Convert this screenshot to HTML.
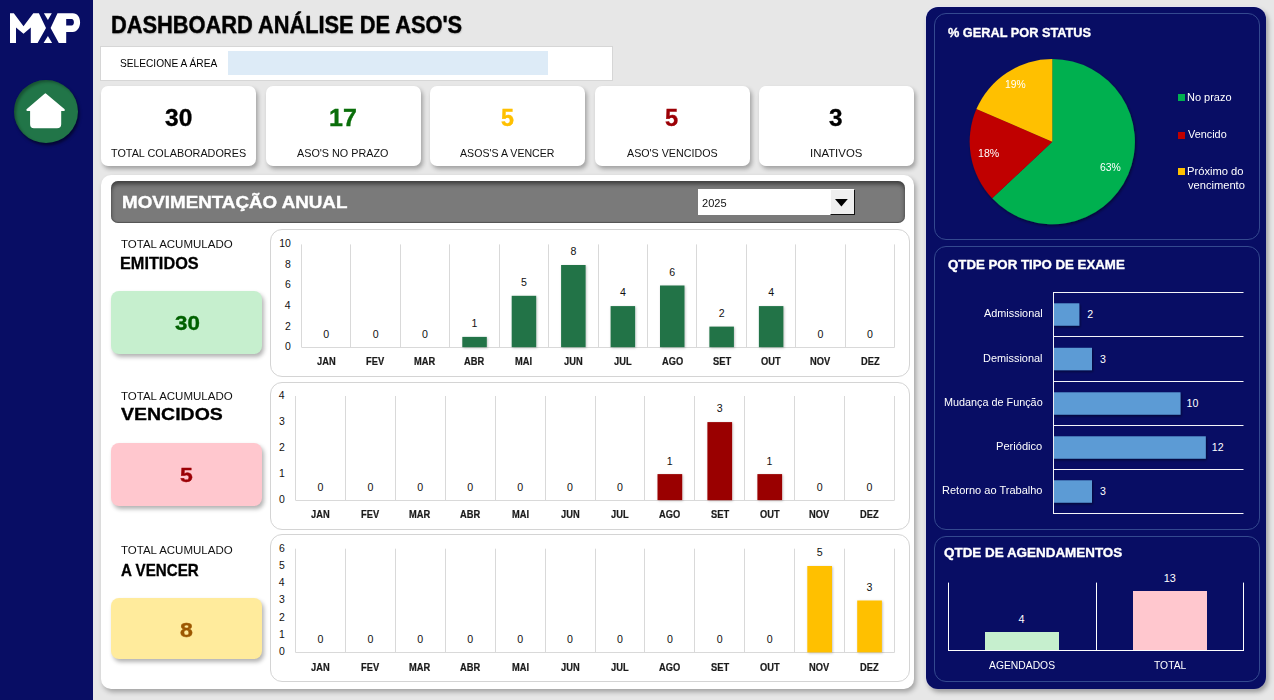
<!DOCTYPE html>
<html><head><meta charset="utf-8"><style>
html,body{margin:0;padding:0;width:1274px;height:700px;overflow:hidden;background:#e7e7e7;font-family:"Liberation Sans", sans-serif;}
body{position:relative;}
.t{position:absolute;white-space:nowrap;line-height:1;transform-origin:0 0;}
</style></head><body>
<div style="position:absolute;left:0.00px;top:0.00px;width:93.00px;height:700.00px;background:#080d64;"></div>
<svg style="position:absolute;left:0;top:0" width="93" height="60" viewBox="0 0 93 60"><g fill="#fff">
<path d="M10,13.3 L13.8,13.3 L23.5,26.2 L33.3,13.3 L38.9,13.3 L46,28.1 L37.6,42.9 L30.8,42.9 L30.8,27.5 L23.5,33.8 L16,27.5 L16,42.9 L10,42.9 Z"/>
<path d="M43.9,13.3 L51.8,13.3 L47.9,19.9 Z"/>
<path d="M43.6,42.9 L52.1,42.9 L47.9,35.9 Z"/>
<path fill-rule="evenodd" d="M57.5,13.3 L72.8,13.3 C77.5,13.3 80.1,17.5 80.1,22.5 C80.1,27.5 77,31.9 72.8,31.9 L66.2,31.9 L66.2,42.9 L58.8,42.9 L50.6,28.1 Z M66.2,19 L71.6,19 C73.2,19 73.9,20.6 73.9,22.3 C73.9,24 73.2,25.6 71.6,25.6 L66.2,25.6 Z"/>
</g></svg>
<div style="position:absolute;left:14.3px;top:80px;width:63.6px;height:63px;border-radius:50%;background:#217548;box-shadow:1.5px 2.5px 3px rgba(0,0,20,0.6), inset 2px 2px 3px rgba(0,0,0,0.3);"></div>
<svg style="position:absolute;left:0;top:60px" width="93" height="100" viewBox="0 60 93 100">
<path d="M45.4,94.6 L27.6,109.9 L31.3,109.9 L31.3,124.3 Q31.3,127 34,127 L57,127 Q60,127 60,124.3 L60,109.9 L63.6,109.9 Z" fill="#fff" stroke="#fff" stroke-width="2.4" stroke-linejoin="round"/>
</svg>
<div class="t" style="left:110.53px;top:13.86px;font-size:23.32px;font-weight:bold;color:#000;transform:scaleX(0.9350);-webkit-text-stroke:0.4px #000;text-shadow:0.5px 1px 1.5px rgba(0,0,0,0.25);">DASHBOARD ANÁLISE DE ASO'S</div>
<div style="position:absolute;left:100.00px;top:46.00px;width:513.00px;height:35.00px;background:#fff;border:1px solid #d6d6d6;box-sizing:border-box;"></div>
<div class="t" style="left:119.74px;top:58.44px;font-size:11.17px;font-weight:normal;color:#000;transform:scaleX(0.9117);">SELECIONE A ÁREA</div>
<div style="position:absolute;left:228.20px;top:51.20px;width:319.80px;height:23.50px;background:#ddebf7;"></div>
<div style="position:absolute;left:101.00px;top:86.30px;width:155.00px;height:79.40px;background:#fff;border-radius:7px;box-shadow:2px 3px 4px rgba(0,0,0,0.3);"></div>
<div class="t" style="left:165.45px;top:106.70px;font-size:23.74px;font-weight:bold;color:#000;transform:scaleX(1.0333);-webkit-text-stroke:0.35px #000;">30</div>
<div class="t" style="left:111.06px;top:147.80px;font-size:10.75px;font-weight:normal;color:#111;transform:scaleX(1.0066);">TOTAL COLABORADORES</div>
<div style="position:absolute;left:265.50px;top:86.30px;width:155.00px;height:79.40px;background:#fff;border-radius:7px;box-shadow:2px 3px 4px rgba(0,0,0,0.3);"></div>
<div class="t" style="left:329.04px;top:106.70px;font-size:23.74px;font-weight:bold;color:#0a6e0a;transform:scaleX(1.0519);-webkit-text-stroke:0.35px #0a6e0a;">17</div>
<div class="t" style="left:297.37px;top:147.80px;font-size:10.75px;font-weight:normal;color:#111;transform:scaleX(1.0039);">ASO'S NO PRAZO</div>
<div style="position:absolute;left:430.00px;top:86.30px;width:155.00px;height:79.40px;background:#fff;border-radius:7px;box-shadow:2px 3px 4px rgba(0,0,0,0.3);"></div>
<div class="t" style="left:500.84px;top:106.70px;font-size:23.74px;font-weight:bold;color:#ffc000;transform:scaleX(0.9785);-webkit-text-stroke:0.35px #ffc000;">5</div>
<div class="t" style="left:460.07px;top:147.80px;font-size:10.75px;font-weight:normal;color:#111;transform:scaleX(0.9857);">ASOS'S A VENCER</div>
<div style="position:absolute;left:594.50px;top:86.30px;width:155.00px;height:79.40px;background:#fff;border-radius:7px;box-shadow:2px 3px 4px rgba(0,0,0,0.3);"></div>
<div class="t" style="left:665.03px;top:106.70px;font-size:23.74px;font-weight:bold;color:#9c0006;transform:scaleX(0.9955);-webkit-text-stroke:0.35px #9c0006;">5</div>
<div class="t" style="left:626.67px;top:147.80px;font-size:10.75px;font-weight:normal;color:#111;transform:scaleX(0.9947);">ASO'S VENCIDOS</div>
<div style="position:absolute;left:759.00px;top:86.30px;width:155.00px;height:79.40px;background:#fff;border-radius:7px;box-shadow:2px 3px 4px rgba(0,0,0,0.3);"></div>
<div class="t" style="left:829.25px;top:106.70px;font-size:23.74px;font-weight:bold;color:#000;transform:scaleX(1.0244);-webkit-text-stroke:0.35px #000;">3</div>
<div class="t" style="left:809.75px;top:147.80px;font-size:10.75px;font-weight:normal;color:#111;transform:scaleX(1.0603);">INATIVOS</div>
<div style="position:absolute;left:101.00px;top:175.20px;width:813.00px;height:513.60px;background:#fff;border-radius:10px;box-shadow:2px 3px 5px rgba(0,0,0,0.3);"></div>
<div style="position:absolute;left:111.00px;top:181.00px;width:794.00px;height:41.70px;background:#7a7a7a;border-radius:7px;box-shadow:inset 0 3px 4px rgba(0,0,0,0.5), inset 0 -1px 1px rgba(0,0,0,0.3);"></div>
<div class="t" style="left:122.23px;top:194.44px;font-size:17.32px;font-weight:bold;color:#fff;transform:scaleX(1.0850);-webkit-text-stroke:0.4px #fff;">MOVIMENTAÇÃO ANUAL</div>
<div style="position:absolute;left:698.00px;top:189.00px;width:157.00px;height:26.00px;background:#fff;"></div>
<div style="position:absolute;left:829.50px;top:188.80px;width:25.80px;height:26.20px;background:#efefef;border-left:1px solid #fff;border-top:1px solid #fff;border-right:1.4px solid #111;border-bottom:1.4px solid #111;box-sizing:border-box;"></div>
<svg style="position:absolute;left:835px;top:198.5px" width="14" height="9"><path d="M0,0 L12.8,0 L6.4,7.5 Z" fill="#000"/></svg>
<div class="t" style="left:701.65px;top:197.47px;font-size:11.73px;font-weight:normal;color:#111;transform:scaleX(0.9433);">2025</div>
<div class="t" style="left:120.74px;top:238.54px;font-size:11.17px;font-weight:normal;color:#111;transform:scaleX(1.0311);">TOTAL ACUMULADO</div>
<div class="t" style="left:119.90px;top:255.52px;font-size:15.92px;font-weight:bold;color:#000;transform:scaleX(1.0230);-webkit-text-stroke:0.3px #000;">EMITIDOS</div>
<div style="position:absolute;left:111.00px;top:291.00px;width:151.00px;height:62.60px;background:#c6efce;border-radius:8px;box-shadow:2px 3px 4px rgba(0,0,0,0.3);"></div>
<div class="t" style="left:174.50px;top:314.25px;font-size:19.55px;font-weight:bold;color:#006100;transform:scaleX(1.1425);-webkit-text-stroke:0.35px #006100;">30</div>
<div style="position:absolute;left:270.00px;top:229.00px;width:640.00px;height:148.00px;border:1px solid #d4d4d4;border-radius:12px;box-sizing:border-box;"></div>
<svg style="position:absolute;left:0;top:0" width="1274" height="700"><line x1="301.5" y1="244.4" x2="301.5" y2="347.2" stroke="#d9d9d9" stroke-width="1"/><line x1="350.5" y1="244.4" x2="350.5" y2="347.2" stroke="#d9d9d9" stroke-width="1"/><line x1="400.5" y1="244.4" x2="400.5" y2="347.2" stroke="#d9d9d9" stroke-width="1"/><line x1="449.5" y1="244.4" x2="449.5" y2="347.2" stroke="#d9d9d9" stroke-width="1"/><line x1="499.5" y1="244.4" x2="499.5" y2="347.2" stroke="#d9d9d9" stroke-width="1"/><line x1="548.5" y1="244.4" x2="548.5" y2="347.2" stroke="#d9d9d9" stroke-width="1"/><line x1="598.5" y1="244.4" x2="598.5" y2="347.2" stroke="#d9d9d9" stroke-width="1"/><line x1="647.5" y1="244.4" x2="647.5" y2="347.2" stroke="#d9d9d9" stroke-width="1"/><line x1="696.5" y1="244.4" x2="696.5" y2="347.2" stroke="#d9d9d9" stroke-width="1"/><line x1="746.5" y1="244.4" x2="746.5" y2="347.2" stroke="#d9d9d9" stroke-width="1"/><line x1="795.5" y1="244.4" x2="795.5" y2="347.2" stroke="#d9d9d9" stroke-width="1"/><line x1="845.5" y1="244.4" x2="845.5" y2="347.2" stroke="#d9d9d9" stroke-width="1"/><line x1="894.5" y1="244.4" x2="894.5" y2="347.2" stroke="#d9d9d9" stroke-width="1"/><line x1="301.5" y1="347.5" x2="894.7" y2="347.5" stroke="#d9d9d9" stroke-width="1"/><rect x="462.3" y="336.9" width="24.5" height="10.3" fill="#217346" filter="url(#bsh)"/><rect x="511.7" y="295.8" width="24.5" height="51.4" fill="#217346" filter="url(#bsh)"/><rect x="561.1" y="265.0" width="24.5" height="82.2" fill="#217346" filter="url(#bsh)"/><rect x="610.6" y="306.1" width="24.5" height="41.1" fill="#217346" filter="url(#bsh)"/><rect x="660.0" y="285.5" width="24.5" height="61.7" fill="#217346" filter="url(#bsh)"/><rect x="709.4" y="326.6" width="24.5" height="20.6" fill="#217346" filter="url(#bsh)"/><rect x="758.9" y="306.1" width="24.5" height="41.1" fill="#217346" filter="url(#bsh)"/><defs><filter id="bsh" x="-20%" y="-20%" width="140%" height="140%"><feDropShadow dx="0.8" dy="0.8" stdDeviation="0.8" flood-color="#000" flood-opacity="0.25"/></filter></defs></svg>
<div class="t" style="left:323.26px;top:328.61px;font-size:10.61px;font-weight:normal;color:#111;transform:scaleX(1.0000);">0</div>
<div class="t" style="left:317.16px;top:357.34px;font-size:10.00px;font-weight:bold;color:#1a1a1a;transform:scaleX(0.9300);-webkit-text-stroke:0.2px #1a1a1a;">JAN</div>
<div class="t" style="left:372.69px;top:328.61px;font-size:10.61px;font-weight:normal;color:#111;transform:scaleX(1.0000);">0</div>
<div class="t" style="left:366.33px;top:357.34px;font-size:10.00px;font-weight:bold;color:#1a1a1a;transform:scaleX(0.9300);-webkit-text-stroke:0.2px #1a1a1a;">FEV</div>
<div class="t" style="left:422.12px;top:328.61px;font-size:10.61px;font-weight:normal;color:#111;transform:scaleX(1.0000);">0</div>
<div class="t" style="left:414.28px;top:357.34px;font-size:10.00px;font-weight:bold;color:#1a1a1a;transform:scaleX(0.9300);-webkit-text-stroke:0.2px #1a1a1a;">MAR</div>
<div class="t" style="left:471.43px;top:318.33px;font-size:10.61px;font-weight:normal;color:#111;transform:scaleX(1.0000);">1</div>
<div class="t" style="left:464.43px;top:357.34px;font-size:10.00px;font-weight:bold;color:#1a1a1a;transform:scaleX(0.9300);-webkit-text-stroke:0.2px #1a1a1a;">ABR</div>
<div class="t" style="left:521.00px;top:277.21px;font-size:10.61px;font-weight:normal;color:#111;transform:scaleX(1.0000);">5</div>
<div class="t" style="left:515.43px;top:357.34px;font-size:10.00px;font-weight:bold;color:#1a1a1a;transform:scaleX(0.9300);-webkit-text-stroke:0.2px #1a1a1a;">MAI</div>
<div class="t" style="left:570.44px;top:246.37px;font-size:10.61px;font-weight:normal;color:#111;transform:scaleX(1.0000);">8</div>
<div class="t" style="left:564.33px;top:357.34px;font-size:10.00px;font-weight:bold;color:#1a1a1a;transform:scaleX(0.9300);-webkit-text-stroke:0.2px #1a1a1a;">JUN</div>
<div class="t" style="left:619.90px;top:287.49px;font-size:10.61px;font-weight:normal;color:#111;transform:scaleX(1.0000);">4</div>
<div class="t" style="left:614.11px;top:357.34px;font-size:10.00px;font-weight:bold;color:#1a1a1a;transform:scaleX(0.9300);-webkit-text-stroke:0.2px #1a1a1a;">JUL</div>
<div class="t" style="left:669.26px;top:266.93px;font-size:10.61px;font-weight:normal;color:#111;transform:scaleX(1.0000);">6</div>
<div class="t" style="left:661.74px;top:357.34px;font-size:10.00px;font-weight:bold;color:#1a1a1a;transform:scaleX(0.9300);-webkit-text-stroke:0.2px #1a1a1a;">AGO</div>
<div class="t" style="left:718.74px;top:308.05px;font-size:10.61px;font-weight:normal;color:#111;transform:scaleX(1.0000);">2</div>
<div class="t" style="left:712.55px;top:357.34px;font-size:10.00px;font-weight:bold;color:#1a1a1a;transform:scaleX(0.9300);-webkit-text-stroke:0.2px #1a1a1a;">SET</div>
<div class="t" style="left:768.20px;top:287.49px;font-size:10.61px;font-weight:normal;color:#111;transform:scaleX(1.0000);">4</div>
<div class="t" style="left:761.17px;top:357.34px;font-size:10.00px;font-weight:bold;color:#1a1a1a;transform:scaleX(0.9300);-webkit-text-stroke:0.2px #1a1a1a;">OUT</div>
<div class="t" style="left:817.59px;top:328.61px;font-size:10.61px;font-weight:normal;color:#111;transform:scaleX(1.0000);">0</div>
<div class="t" style="left:810.19px;top:357.34px;font-size:10.00px;font-weight:bold;color:#1a1a1a;transform:scaleX(0.9300);-webkit-text-stroke:0.2px #1a1a1a;">NOV</div>
<div class="t" style="left:867.02px;top:328.61px;font-size:10.61px;font-weight:normal;color:#111;transform:scaleX(1.0000);">0</div>
<div class="t" style="left:860.50px;top:357.34px;font-size:10.00px;font-weight:bold;color:#1a1a1a;transform:scaleX(0.9300);-webkit-text-stroke:0.2px #1a1a1a;">DEZ</div>
<div class="t" style="left:284.98px;top:342.13px;font-size:10.47px;font-weight:normal;color:#111;transform:scaleX(1.0000);">0</div>
<div class="t" style="left:285.11px;top:321.57px;font-size:10.47px;font-weight:normal;color:#111;transform:scaleX(1.0000);">2</div>
<div class="t" style="left:284.87px;top:301.01px;font-size:10.47px;font-weight:normal;color:#111;transform:scaleX(1.0000);">4</div>
<div class="t" style="left:285.03px;top:280.45px;font-size:10.47px;font-weight:normal;color:#111;transform:scaleX(1.0000);">6</div>
<div class="t" style="left:285.03px;top:259.89px;font-size:10.47px;font-weight:normal;color:#111;transform:scaleX(1.0000);">8</div>
<div class="t" style="left:279.17px;top:239.33px;font-size:10.47px;font-weight:normal;color:#111;transform:scaleX(1.0000);">10</div>
<div class="t" style="left:120.74px;top:390.54px;font-size:11.17px;font-weight:normal;color:#111;transform:scaleX(1.0311);">TOTAL ACUMULADO</div>
<div class="t" style="left:120.85px;top:407.21px;font-size:16.76px;font-weight:bold;color:#000;transform:scaleX(1.1639);-webkit-text-stroke:0.3px #000;">VENCIDOS</div>
<div style="position:absolute;left:111.00px;top:443.00px;width:151.00px;height:63.00px;background:#ffc7ce;border-radius:8px;box-shadow:2px 3px 4px rgba(0,0,0,0.3);"></div>
<div class="t" style="left:180.25px;top:466.25px;font-size:19.55px;font-weight:bold;color:#9c0006;transform:scaleX(1.1778);-webkit-text-stroke:0.35px #9c0006;">5</div>
<div style="position:absolute;left:270.00px;top:382.00px;width:640.00px;height:148.00px;border:1px solid #d4d4d4;border-radius:12px;box-sizing:border-box;"></div>
<svg style="position:absolute;left:0;top:0" width="1274" height="700"><line x1="295.5" y1="396.0" x2="295.5" y2="500.2" stroke="#d9d9d9" stroke-width="1"/><line x1="345.5" y1="396.0" x2="345.5" y2="500.2" stroke="#d9d9d9" stroke-width="1"/><line x1="395.5" y1="396.0" x2="395.5" y2="500.2" stroke="#d9d9d9" stroke-width="1"/><line x1="445.5" y1="396.0" x2="445.5" y2="500.2" stroke="#d9d9d9" stroke-width="1"/><line x1="495.5" y1="396.0" x2="495.5" y2="500.2" stroke="#d9d9d9" stroke-width="1"/><line x1="545.5" y1="396.0" x2="545.5" y2="500.2" stroke="#d9d9d9" stroke-width="1"/><line x1="595.5" y1="396.0" x2="595.5" y2="500.2" stroke="#d9d9d9" stroke-width="1"/><line x1="644.5" y1="396.0" x2="644.5" y2="500.2" stroke="#d9d9d9" stroke-width="1"/><line x1="694.5" y1="396.0" x2="694.5" y2="500.2" stroke="#d9d9d9" stroke-width="1"/><line x1="744.5" y1="396.0" x2="744.5" y2="500.2" stroke="#d9d9d9" stroke-width="1"/><line x1="794.5" y1="396.0" x2="794.5" y2="500.2" stroke="#d9d9d9" stroke-width="1"/><line x1="844.5" y1="396.0" x2="844.5" y2="500.2" stroke="#d9d9d9" stroke-width="1"/><line x1="894.5" y1="396.0" x2="894.5" y2="500.2" stroke="#d9d9d9" stroke-width="1"/><line x1="295.5" y1="500.5" x2="894.5" y2="500.5" stroke="#d9d9d9" stroke-width="1"/><rect x="657.5" y="474.1" width="24.7" height="26.0" fill="#9a0000" filter="url(#bsh)"/><rect x="707.4" y="422.1" width="24.7" height="78.1" fill="#9a0000" filter="url(#bsh)"/><rect x="757.4" y="474.1" width="24.7" height="26.0" fill="#9a0000" filter="url(#bsh)"/><defs><filter id="bsh" x="-20%" y="-20%" width="140%" height="140%"><feDropShadow dx="0.8" dy="0.8" stdDeviation="0.8" flood-color="#000" flood-opacity="0.25"/></filter></defs></svg>
<div class="t" style="left:317.50px;top:481.61px;font-size:10.61px;font-weight:normal;color:#111;transform:scaleX(1.0000);">0</div>
<div class="t" style="left:311.40px;top:509.54px;font-size:10.00px;font-weight:bold;color:#1a1a1a;transform:scaleX(0.9300);-webkit-text-stroke:0.2px #1a1a1a;">JAN</div>
<div class="t" style="left:367.42px;top:481.61px;font-size:10.61px;font-weight:normal;color:#111;transform:scaleX(1.0000);">0</div>
<div class="t" style="left:361.05px;top:509.54px;font-size:10.00px;font-weight:bold;color:#1a1a1a;transform:scaleX(0.9300);-webkit-text-stroke:0.2px #1a1a1a;">FEV</div>
<div class="t" style="left:417.33px;top:481.61px;font-size:10.61px;font-weight:normal;color:#111;transform:scaleX(1.0000);">0</div>
<div class="t" style="left:409.49px;top:509.54px;font-size:10.00px;font-weight:bold;color:#1a1a1a;transform:scaleX(0.9300);-webkit-text-stroke:0.2px #1a1a1a;">MAR</div>
<div class="t" style="left:467.25px;top:481.61px;font-size:10.61px;font-weight:normal;color:#111;transform:scaleX(1.0000);">0</div>
<div class="t" style="left:460.12px;top:509.54px;font-size:10.00px;font-weight:bold;color:#1a1a1a;transform:scaleX(0.9300);-webkit-text-stroke:0.2px #1a1a1a;">ABR</div>
<div class="t" style="left:517.17px;top:481.61px;font-size:10.61px;font-weight:normal;color:#111;transform:scaleX(1.0000);">0</div>
<div class="t" style="left:511.60px;top:509.54px;font-size:10.00px;font-weight:bold;color:#1a1a1a;transform:scaleX(0.9300);-webkit-text-stroke:0.2px #1a1a1a;">MAI</div>
<div class="t" style="left:567.08px;top:481.61px;font-size:10.61px;font-weight:normal;color:#111;transform:scaleX(1.0000);">0</div>
<div class="t" style="left:560.99px;top:509.54px;font-size:10.00px;font-weight:bold;color:#1a1a1a;transform:scaleX(0.9300);-webkit-text-stroke:0.2px #1a1a1a;">JUN</div>
<div class="t" style="left:617.00px;top:481.61px;font-size:10.61px;font-weight:normal;color:#111;transform:scaleX(1.0000);">0</div>
<div class="t" style="left:611.25px;top:509.54px;font-size:10.00px;font-weight:bold;color:#1a1a1a;transform:scaleX(0.9300);-webkit-text-stroke:0.2px #1a1a1a;">JUL</div>
<div class="t" style="left:666.78px;top:455.56px;font-size:10.61px;font-weight:normal;color:#111;transform:scaleX(1.0000);">1</div>
<div class="t" style="left:659.37px;top:509.54px;font-size:10.00px;font-weight:bold;color:#1a1a1a;transform:scaleX(0.9300);-webkit-text-stroke:0.2px #1a1a1a;">AGO</div>
<div class="t" style="left:716.87px;top:403.46px;font-size:10.61px;font-weight:normal;color:#111;transform:scaleX(1.0000);">3</div>
<div class="t" style="left:710.65px;top:509.54px;font-size:10.00px;font-weight:bold;color:#1a1a1a;transform:scaleX(0.9300);-webkit-text-stroke:0.2px #1a1a1a;">SET</div>
<div class="t" style="left:766.62px;top:455.56px;font-size:10.61px;font-weight:normal;color:#111;transform:scaleX(1.0000);">1</div>
<div class="t" style="left:759.76px;top:509.54px;font-size:10.00px;font-weight:bold;color:#1a1a1a;transform:scaleX(0.9300);-webkit-text-stroke:0.2px #1a1a1a;">OUT</div>
<div class="t" style="left:816.67px;top:481.61px;font-size:10.61px;font-weight:normal;color:#111;transform:scaleX(1.0000);">0</div>
<div class="t" style="left:809.27px;top:509.54px;font-size:10.00px;font-weight:bold;color:#1a1a1a;transform:scaleX(0.9300);-webkit-text-stroke:0.2px #1a1a1a;">NOV</div>
<div class="t" style="left:866.58px;top:481.61px;font-size:10.61px;font-weight:normal;color:#111;transform:scaleX(1.0000);">0</div>
<div class="t" style="left:860.06px;top:509.54px;font-size:10.00px;font-weight:bold;color:#1a1a1a;transform:scaleX(0.9300);-webkit-text-stroke:0.2px #1a1a1a;">DEZ</div>
<div class="t" style="left:278.98px;top:495.13px;font-size:10.47px;font-weight:normal;color:#111;transform:scaleX(1.0000);">0</div>
<div class="t" style="left:279.08px;top:469.08px;font-size:10.47px;font-weight:normal;color:#111;transform:scaleX(1.0000);">1</div>
<div class="t" style="left:279.11px;top:443.03px;font-size:10.47px;font-weight:normal;color:#111;transform:scaleX(1.0000);">2</div>
<div class="t" style="left:279.03px;top:416.98px;font-size:10.47px;font-weight:normal;color:#111;transform:scaleX(1.0000);">3</div>
<div class="t" style="left:278.87px;top:390.93px;font-size:10.47px;font-weight:normal;color:#111;transform:scaleX(1.0000);">4</div>
<div class="t" style="left:120.74px;top:544.54px;font-size:11.17px;font-weight:normal;color:#111;transform:scaleX(1.0311);">TOTAL ACUMULADO</div>
<div class="t" style="left:120.62px;top:561.69px;font-size:16.20px;font-weight:bold;color:#000;transform:scaleX(0.9351);-webkit-text-stroke:0.3px #000;">A VENCER</div>
<div style="position:absolute;left:111.00px;top:597.60px;width:151.00px;height:61.70px;background:#ffeb9c;border-radius:8px;box-shadow:2px 3px 4px rgba(0,0,0,0.3);"></div>
<div class="t" style="left:180.25px;top:620.85px;font-size:19.55px;font-weight:bold;color:#9c5700;transform:scaleX(1.1838);-webkit-text-stroke:0.35px #9c5700;">8</div>
<div style="position:absolute;left:270.00px;top:534.00px;width:640.00px;height:148.00px;border:1px solid #d4d4d4;border-radius:12px;box-sizing:border-box;"></div>
<svg style="position:absolute;left:0;top:0" width="1274" height="700"><line x1="295.5" y1="548.7" x2="295.5" y2="652.4" stroke="#d9d9d9" stroke-width="1"/><line x1="345.5" y1="548.7" x2="345.5" y2="652.4" stroke="#d9d9d9" stroke-width="1"/><line x1="395.5" y1="548.7" x2="395.5" y2="652.4" stroke="#d9d9d9" stroke-width="1"/><line x1="445.5" y1="548.7" x2="445.5" y2="652.4" stroke="#d9d9d9" stroke-width="1"/><line x1="495.5" y1="548.7" x2="495.5" y2="652.4" stroke="#d9d9d9" stroke-width="1"/><line x1="545.5" y1="548.7" x2="545.5" y2="652.4" stroke="#d9d9d9" stroke-width="1"/><line x1="595.5" y1="548.7" x2="595.5" y2="652.4" stroke="#d9d9d9" stroke-width="1"/><line x1="644.5" y1="548.7" x2="644.5" y2="652.4" stroke="#d9d9d9" stroke-width="1"/><line x1="694.5" y1="548.7" x2="694.5" y2="652.4" stroke="#d9d9d9" stroke-width="1"/><line x1="744.5" y1="548.7" x2="744.5" y2="652.4" stroke="#d9d9d9" stroke-width="1"/><line x1="794.5" y1="548.7" x2="794.5" y2="652.4" stroke="#d9d9d9" stroke-width="1"/><line x1="844.5" y1="548.7" x2="844.5" y2="652.4" stroke="#d9d9d9" stroke-width="1"/><line x1="894.5" y1="548.7" x2="894.5" y2="652.4" stroke="#d9d9d9" stroke-width="1"/><line x1="295.5" y1="652.5" x2="894.5" y2="652.5" stroke="#d9d9d9" stroke-width="1"/><rect x="807.3" y="566.0" width="24.7" height="86.4" fill="#ffc000" filter="url(#bsh)"/><rect x="857.2" y="600.5" width="24.7" height="51.8" fill="#ffc000" filter="url(#bsh)"/><defs><filter id="bsh" x="-20%" y="-20%" width="140%" height="140%"><feDropShadow dx="0.8" dy="0.8" stdDeviation="0.8" flood-color="#000" flood-opacity="0.25"/></filter></defs></svg>
<div class="t" style="left:317.50px;top:633.81px;font-size:10.61px;font-weight:normal;color:#111;transform:scaleX(1.0000);">0</div>
<div class="t" style="left:311.40px;top:662.53px;font-size:10.00px;font-weight:bold;color:#1a1a1a;transform:scaleX(0.9300);-webkit-text-stroke:0.2px #1a1a1a;">JAN</div>
<div class="t" style="left:367.42px;top:633.81px;font-size:10.61px;font-weight:normal;color:#111;transform:scaleX(1.0000);">0</div>
<div class="t" style="left:361.05px;top:662.53px;font-size:10.00px;font-weight:bold;color:#1a1a1a;transform:scaleX(0.9300);-webkit-text-stroke:0.2px #1a1a1a;">FEV</div>
<div class="t" style="left:417.33px;top:633.81px;font-size:10.61px;font-weight:normal;color:#111;transform:scaleX(1.0000);">0</div>
<div class="t" style="left:409.49px;top:662.53px;font-size:10.00px;font-weight:bold;color:#1a1a1a;transform:scaleX(0.9300);-webkit-text-stroke:0.2px #1a1a1a;">MAR</div>
<div class="t" style="left:467.25px;top:633.81px;font-size:10.61px;font-weight:normal;color:#111;transform:scaleX(1.0000);">0</div>
<div class="t" style="left:460.12px;top:662.53px;font-size:10.00px;font-weight:bold;color:#1a1a1a;transform:scaleX(0.9300);-webkit-text-stroke:0.2px #1a1a1a;">ABR</div>
<div class="t" style="left:517.17px;top:633.81px;font-size:10.61px;font-weight:normal;color:#111;transform:scaleX(1.0000);">0</div>
<div class="t" style="left:511.60px;top:662.53px;font-size:10.00px;font-weight:bold;color:#1a1a1a;transform:scaleX(0.9300);-webkit-text-stroke:0.2px #1a1a1a;">MAI</div>
<div class="t" style="left:567.08px;top:633.81px;font-size:10.61px;font-weight:normal;color:#111;transform:scaleX(1.0000);">0</div>
<div class="t" style="left:560.99px;top:662.53px;font-size:10.00px;font-weight:bold;color:#1a1a1a;transform:scaleX(0.9300);-webkit-text-stroke:0.2px #1a1a1a;">JUN</div>
<div class="t" style="left:617.00px;top:633.81px;font-size:10.61px;font-weight:normal;color:#111;transform:scaleX(1.0000);">0</div>
<div class="t" style="left:611.25px;top:662.53px;font-size:10.00px;font-weight:bold;color:#1a1a1a;transform:scaleX(0.9300);-webkit-text-stroke:0.2px #1a1a1a;">JUL</div>
<div class="t" style="left:666.92px;top:633.81px;font-size:10.61px;font-weight:normal;color:#111;transform:scaleX(1.0000);">0</div>
<div class="t" style="left:659.37px;top:662.53px;font-size:10.00px;font-weight:bold;color:#1a1a1a;transform:scaleX(0.9300);-webkit-text-stroke:0.2px #1a1a1a;">AGO</div>
<div class="t" style="left:716.83px;top:633.81px;font-size:10.61px;font-weight:normal;color:#111;transform:scaleX(1.0000);">0</div>
<div class="t" style="left:710.65px;top:662.53px;font-size:10.00px;font-weight:bold;color:#1a1a1a;transform:scaleX(0.9300);-webkit-text-stroke:0.2px #1a1a1a;">SET</div>
<div class="t" style="left:766.75px;top:633.81px;font-size:10.61px;font-weight:normal;color:#111;transform:scaleX(1.0000);">0</div>
<div class="t" style="left:759.76px;top:662.53px;font-size:10.00px;font-weight:bold;color:#1a1a1a;transform:scaleX(0.9300);-webkit-text-stroke:0.2px #1a1a1a;">OUT</div>
<div class="t" style="left:816.68px;top:547.40px;font-size:10.61px;font-weight:normal;color:#111;transform:scaleX(1.0000);">5</div>
<div class="t" style="left:809.27px;top:662.53px;font-size:10.00px;font-weight:bold;color:#1a1a1a;transform:scaleX(0.9300);-webkit-text-stroke:0.2px #1a1a1a;">NOV</div>
<div class="t" style="left:866.62px;top:581.96px;font-size:10.61px;font-weight:normal;color:#111;transform:scaleX(1.0000);">3</div>
<div class="t" style="left:860.06px;top:662.53px;font-size:10.00px;font-weight:bold;color:#1a1a1a;transform:scaleX(0.9300);-webkit-text-stroke:0.2px #1a1a1a;">DEZ</div>
<div class="t" style="left:278.98px;top:647.33px;font-size:10.47px;font-weight:normal;color:#111;transform:scaleX(1.0000);">0</div>
<div class="t" style="left:279.08px;top:630.05px;font-size:10.47px;font-weight:normal;color:#111;transform:scaleX(1.0000);">1</div>
<div class="t" style="left:279.11px;top:612.77px;font-size:10.47px;font-weight:normal;color:#111;transform:scaleX(1.0000);">2</div>
<div class="t" style="left:279.03px;top:595.48px;font-size:10.47px;font-weight:normal;color:#111;transform:scaleX(1.0000);">3</div>
<div class="t" style="left:278.87px;top:578.20px;font-size:10.47px;font-weight:normal;color:#111;transform:scaleX(1.0000);">4</div>
<div class="t" style="left:279.01px;top:560.92px;font-size:10.47px;font-weight:normal;color:#111;transform:scaleX(1.0000);">5</div>
<div class="t" style="left:279.03px;top:543.63px;font-size:10.47px;font-weight:normal;color:#111;transform:scaleX(1.0000);">6</div>
<div style="position:absolute;left:926.00px;top:7.00px;width:340.00px;height:681.50px;background:#080d64;border-radius:12px;box-shadow:2px 3px 5px rgba(0,0,0,0.35), 0 0 1px 1px rgba(240,240,255,0.6);"></div>
<div style="position:absolute;left:934.00px;top:13.00px;width:326.00px;height:227.00px;border:1px solid #34498f;border-radius:12px;box-sizing:border-box;"></div>
<div style="position:absolute;left:934.00px;top:246.00px;width:326.00px;height:284.00px;border:1px solid #34498f;border-radius:12px;box-sizing:border-box;"></div>
<div style="position:absolute;left:934.00px;top:536.00px;width:326.00px;height:146.00px;border:1px solid #34498f;border-radius:12px;box-sizing:border-box;"></div>
<div class="t" style="left:948.18px;top:26.49px;font-size:13.13px;font-weight:bold;color:#fff;transform:scaleX(0.9706);-webkit-text-stroke:0.35px #fff;">% GERAL POR STATUS</div>
<div class="t" style="left:947.77px;top:258.96px;font-size:12.57px;font-weight:bold;color:#fff;transform:scaleX(1.0551);-webkit-text-stroke:0.35px #fff;">QTDE POR TIPO DE EXAME</div>
<div class="t" style="left:944.26px;top:547.26px;font-size:12.57px;font-weight:bold;color:#fff;transform:scaleX(1.0686);-webkit-text-stroke:0.35px #fff;">QTDE DE AGENDAMENTOS</div>
<svg style="position:absolute;left:0;top:0" width="1274" height="700"><defs><filter id="psh" x="-10%" y="-10%" width="120%" height="120%"><feDropShadow dx="1" dy="1.5" stdDeviation="1.5" flood-color="#000" flood-opacity="0.5"/></filter></defs><g filter="url(#psh)"><path d="M1052.3,141.7 L1052.30,59.10 A82.6,82.6 0 1 1 992.19,198.35 Z" fill="#00b050"/><path d="M1052.3,141.7 L992.19,198.35 A82.6,82.6 0 0 1 976.44,109.03 Z" fill="#c00000"/><path d="M1052.3,141.7 L976.44,109.03 A82.6,82.6 0 0 1 1052.30,59.10 Z" fill="#ffc000"/></g></svg>
<div class="t" style="left:1004.53px;top:78.58px;font-size:10.89px;font-weight:normal;color:#fff;transform:scaleX(0.9471);">19%</div>
<div class="t" style="left:978.01px;top:147.70px;font-size:10.75px;font-weight:normal;color:#fff;transform:scaleX(0.9840);">18%</div>
<div class="t" style="left:1100.48px;top:161.72px;font-size:11.31px;font-weight:normal;color:#fff;transform:scaleX(0.9232);">63%</div>
<div style="position:absolute;left:1178.00px;top:94.00px;width:7.00px;height:7.00px;background:#00b050;"></div>
<div style="position:absolute;left:1178.00px;top:131.50px;width:7.00px;height:7.00px;background:#c00000;"></div>
<div style="position:absolute;left:1178.00px;top:168.30px;width:7.00px;height:7.00px;background:#ffc000;"></div>
<div class="t" style="left:1186.89px;top:92.00px;font-size:10.75px;font-weight:normal;color:#fff;transform:scaleX(1.0208);">No prazo</div>
<div class="t" style="left:1187.75px;top:129.67px;font-size:10.20px;font-weight:normal;color:#fff;transform:scaleX(1.0667);">Vencido</div>
<div class="t" style="left:1186.88px;top:166.10px;font-size:10.75px;font-weight:normal;color:#fff;transform:scaleX(1.0401);">Próximo do</div>
<div class="t" style="left:1187.74px;top:180.10px;font-size:10.75px;font-weight:normal;color:#fff;transform:scaleX(1.0349);">vencimento</div>
<svg style="position:absolute;left:0;top:0" width="1274" height="700"><defs><filter id="hsh" x="-10%" y="-20%" width="120%" height="150%"><feDropShadow dx="1" dy="1.5" stdDeviation="1" flood-color="#000" flood-opacity="0.45"/></filter></defs><line x1="1053" y1="292.5" x2="1243.5" y2="292.5" stroke="#f4f4f8" stroke-width="1"/><line x1="1053" y1="336.5" x2="1243.5" y2="336.5" stroke="#f4f4f8" stroke-width="1"/><line x1="1053" y1="381.5" x2="1243.5" y2="381.5" stroke="#f4f4f8" stroke-width="1"/><line x1="1053" y1="425.5" x2="1243.5" y2="425.5" stroke="#f4f4f8" stroke-width="1"/><line x1="1053" y1="469.5" x2="1243.5" y2="469.5" stroke="#f4f4f8" stroke-width="1"/><line x1="1053" y1="513.5" x2="1243.5" y2="513.5" stroke="#f4f4f8" stroke-width="1"/><line x1="1053.5" y1="292" x2="1053.5" y2="514" stroke="#f4f4f8" stroke-width="1"/><rect x="1054" y="303.3" width="25.3" height="22.4" fill="#5b9bd5" filter="url(#hsh)"/><rect x="1054" y="347.8" width="38.0" height="22.4" fill="#5b9bd5" filter="url(#hsh)"/><rect x="1054" y="392.3" width="126.5" height="22.4" fill="#5b9bd5" filter="url(#hsh)"/><rect x="1054" y="436.3" width="151.8" height="22.4" fill="#5b9bd5" filter="url(#hsh)"/><rect x="1054" y="480.3" width="38.0" height="22.4" fill="#5b9bd5" filter="url(#hsh)"/></svg>
<div class="t" style="left:983.97px;top:308.18px;font-size:10.89px;font-weight:normal;color:#fff;transform:scaleX(1.0003);">Admissional</div>
<div class="t" style="left:1087.17px;top:309.41px;font-size:10.61px;font-weight:normal;color:#fff;transform:scaleX(1.0000);">2</div>
<div class="t" style="left:983.10px;top:352.68px;font-size:10.89px;font-weight:normal;color:#fff;transform:scaleX(1.0050);">Demissional</div>
<div class="t" style="left:1099.95px;top:353.91px;font-size:10.61px;font-weight:normal;color:#fff;transform:scaleX(1.0000);">3</div>
<div class="t" style="left:943.61px;top:397.18px;font-size:10.89px;font-weight:normal;color:#fff;transform:scaleX(0.9950);">Mudança de Função</div>
<div class="t" style="left:1186.50px;top:398.41px;font-size:10.61px;font-weight:normal;color:#fff;transform:scaleX(1.0000);">10</div>
<div class="t" style="left:996.08px;top:441.18px;font-size:10.89px;font-weight:normal;color:#fff;transform:scaleX(1.0212);">Periódico</div>
<div class="t" style="left:1211.80px;top:442.41px;font-size:10.61px;font-weight:normal;color:#fff;transform:scaleX(1.0000);">12</div>
<div class="t" style="left:941.79px;top:485.18px;font-size:10.89px;font-weight:normal;color:#fff;transform:scaleX(1.0134);">Retorno ao Trabalho</div>
<div class="t" style="left:1099.95px;top:486.41px;font-size:10.61px;font-weight:normal;color:#fff;transform:scaleX(1.0000);">3</div>
<svg style="position:absolute;left:0;top:0" width="1274" height="700"><line x1="948.5" y1="582.6" x2="948.5" y2="650.5" stroke="#fff" stroke-width="1"/><line x1="1096.5" y1="582.6" x2="1096.5" y2="650.5" stroke="#fff" stroke-width="1"/><line x1="1243.5" y1="582.6" x2="1243.5" y2="650.5" stroke="#fff" stroke-width="1"/><line x1="948" y1="650.5" x2="1244" y2="650.5" stroke="#fff" stroke-width="1"/><rect x="985" y="632" width="74" height="18" fill="#c6efce"/><rect x="1133" y="591" width="74" height="59" fill="#ffc7ce"/></svg>
<div class="t" style="left:1018.50px;top:613.88px;font-size:10.89px;font-weight:normal;color:#fff;transform:scaleX(1.0000);">4</div>
<div class="t" style="left:1163.78px;top:572.98px;font-size:10.89px;font-weight:normal;color:#fff;transform:scaleX(1.0000);">13</div>
<div class="t" style="left:989.17px;top:659.78px;font-size:10.89px;font-weight:normal;color:#fff;transform:scaleX(0.9500);">AGENDADOS</div>
<div class="t" style="left:1153.86px;top:659.78px;font-size:10.89px;font-weight:normal;color:#fff;transform:scaleX(0.9500);">TOTAL</div>
</body></html>
